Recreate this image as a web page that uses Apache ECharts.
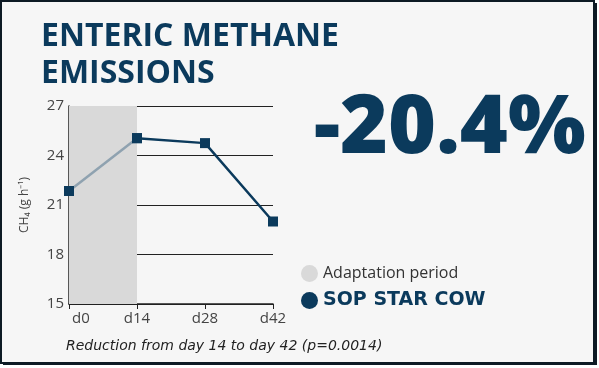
<!DOCTYPE html>
<html>
<head>
<meta charset="utf-8">
<script src="https://cdn.jsdelivr.net/npm/echarts@6/dist/echarts.min.js"></script>
<style>
html,body{margin:0;padding:0;background:#fff;}
#c{width:599px;height:368px;}
</style>
</head>
<body>
<div id="c"></div>
<script>
const categories = ['d0', 'd14', 'd28', 'd42'];
const adaptationValues = [21.85, 25.05, '-', '-'];
const sopStarCowValues = ['-', 25.05, 24.75, 20.0];
const yTicks = { min: 15, max: 27, interval: 3 };
const adaptationRange = ['d0', 'd14'];

const NAVY = '#0b3a5c';
const FONT = 'Open Sans';

const chart = echarts.init(document.getElementById('c'), null, { renderer: 'canvas' });
chart.setOption({
  backgroundColor: '#ffffff',
  animation: false,
  graphic: [
    { type: 'rect', z: -10, shape: { x: 3, y: 3, width: 594, height: 362 }, style: { fill: '#0d1a24' } },
    { type: 'rect', z: -9, shape: { x: 1, y: 1, width: 593, height: 362 }, style: { fill: '#f6f6f6', stroke: '#0d1a24', lineWidth: 2 } }
  ],
  title: [
    {
      text: 'ENTERIC METHANE\nEMISSIONS',
      left: 36, top: 13,
      textStyle: { fontFamily: FONT, fontSize: 32, fontWeight: 700, color: NAVY, lineHeight: 37 }
    },
    {
      text: '-20.4%',
      left: 309, top: 80,
      textStyle: { fontFamily: FONT, fontSize: 82, fontWeight: 800, color: NAVY, lineHeight: 90 }
    },
    {
      text: 'Reduction from day 14 to day 42 (p=0.0014)',
      left: 61, top: 334,
      textStyle: { fontFamily: 'DejaVu Sans', fontSize: 14, fontStyle: 'italic', fontWeight: 'normal', color: '#222' }
    }
  ],
  legend: {
    orient: 'vertical',
    left: 296, top: 260,
    icon: 'circle',
    itemWidth: 17, itemHeight: 17,
    itemGap: 9,
    data: [
      { name: 'Adaptation period', itemStyle: { color: '#d9d9d9' }, textStyle: { fontFamily: FONT, fontSize: 16, color: '#333' } },
      { name: 'SOP STAR COW', itemStyle: { color: NAVY }, textStyle: { fontFamily: 'DejaVu Sans', fontSize: 19, fontWeight: 'bold', color: NAVY } }
    ],
    selectedMode: false
  },
  grid: { left: 69, top: 106, width: 204, height: 198, containLabel: false },
  xAxis: {
    type: 'category',
    data: categories.map((c, i) => i === 0 ? { value: c, textStyle: { padding: [0, 0, 0, 24] } } : c),
    boundaryGap: false,
    axisLine: { lineStyle: { color: '#222', width: 1.5 } },
    axisTick: { show: true, length: 5, lineStyle: { color: '#222' } },
    axisLabel: { fontFamily: FONT, fontSize: 15, color: '#444', margin: 7 }
  },
  yAxis: {
    type: 'value',
    min: yTicks.min, max: yTicks.max, interval: yTicks.interval,
    name: 'CH\u2084 (g h\u207B\u00B9)',
    nameLocation: 'middle',
    nameRotate: 90,
    nameGap: 38,
    nameTextStyle: { fontFamily: FONT, fontSize: 12, color: '#444' },
    axisLine: { show: true, lineStyle: { color: '#222', width: 1.5 } },
    axisTick: { show: false },
    axisLabel: { fontFamily: FONT, fontSize: 15, color: '#444', margin: 5, padding: [0, 0, 5, 0] },
    splitLine: { lineStyle: { color: '#222', width: 1 } }
  },
  series: [
    {
      name: 'Adaptation period',
      type: 'line',
      data: adaptationValues,
      z: 2,
      symbol: 'rect',
      symbolSize: 10,
      itemStyle: { color: NAVY },
      lineStyle: { color: '#8fa2b0', width: 2.5 },
      markArea: {
        silent: true,
        itemStyle: { color: '#d9d9d9' },
        data: [[{ xAxis: adaptationRange[0] }, { xAxis: adaptationRange[1] }]]
      }
    },
    {
      name: 'SOP STAR COW',
      type: 'line',
      data: sopStarCowValues,
      z: 3,
      symbol: 'rect',
      symbolSize: 10,
      itemStyle: { color: NAVY },
      lineStyle: { color: NAVY, width: 2.5 }
    }
  ]
});
</script>
</body>
</html>
